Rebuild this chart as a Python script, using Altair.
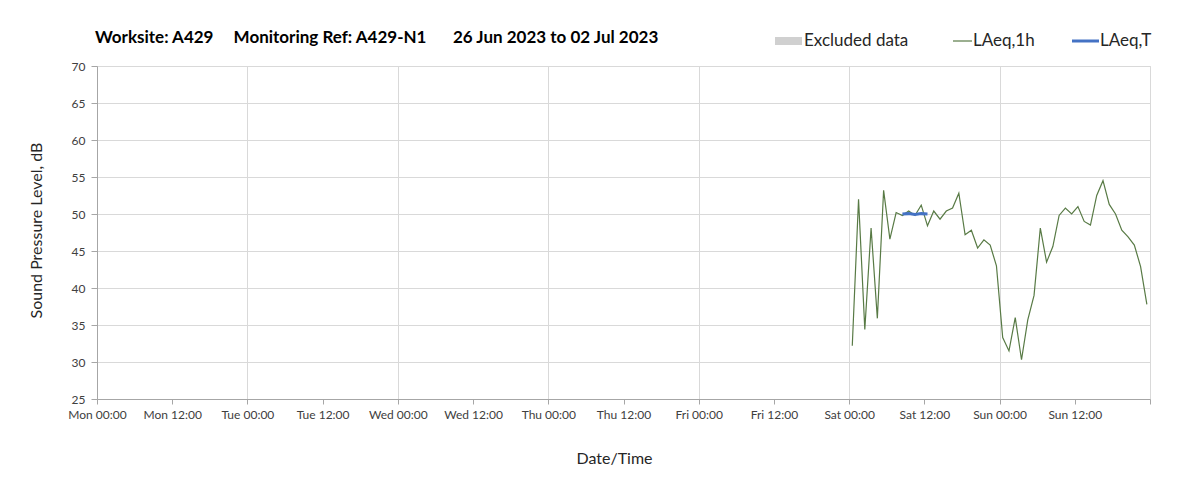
import altair as alt
import pandas as pd

# ---------------- data ----------------
# LAeq,1h values, hourly (plotted at half past each hour), Sat 01 Jul and Sun 02 Jul 2023
sat_times = [f"2023-07-01T{h:02d}:30:00" for h in range(24)]
sat_vals = [32.2, 52.0, 34.4, 48.1, 35.9, 53.2, 46.6, 50.2, 49.8, 50.4, 49.8, 51.2,
            48.4, 50.4, 49.3, 50.4, 50.8, 52.8, 47.2, 47.8, 45.4, 46.5, 45.8, 43.0]
sun_times = [f"2023-07-02T{h:02d}:30:00" for h in range(24)]
sun_vals = [33.3, 31.5, 36.0, 30.3, 35.7, 39.0, 48.1, 43.5, 45.6, 49.8, 50.8, 50.0,
            51.0, 49.0, 48.5, 52.5, 54.5, 51.3, 50.0, 47.8, 46.9, 45.8, 42.9, 37.8]

# LAeq,T values
t_times = ["2023-07-01T08:30:00", "2023-07-01T09:30:00", "2023-07-01T10:30:00",
           "2023-07-01T11:30:00", "2023-07-01T12:30:00"]
t_vals = [50.0, 50.05, 49.95, 50.05, 50.0]

title_parts = ["Worksite: A429", "Monitoring Ref: A429-N1", "26 Jun 2023 to 02 Jul 2023"]
legend_labels = ["Excluded data", "LAeq,1h", "LAeq,T"]
y_ticks = [25, 30, 35, 40, 45, 50, 55, 60, 65, 70]
# tick days (month, day) from Mon 26 Jun to Mon 03 Jul, every 12 h
tick_days = [(6, 26), (6, 27), (6, 28), (6, 29), (6, 30), (7, 1), (7, 2)]

GREEN = "#587a45"
BLUE = "#4472c4"
FONT = "Lato"

df_1h = pd.DataFrame({"time": sat_times + sun_times, "level": sat_vals + sun_vals})
df_t = pd.DataFrame({"time": t_times, "level": t_vals})

tick_values = []
for m, d in tick_days:
    tick_values.append(alt.DateTime(year=2023, month=m, date=d, hours=0))
    tick_values.append(alt.DateTime(year=2023, month=m, date=d, hours=12))
tick_values.append(alt.DateTime(year=2023, month=7, date=3, hours=0))

x_scale = alt.Scale(domain=[alt.DateTime(year=2023, month=6, date=26, hours=0),
                            alt.DateTime(year=2023, month=7, date=3, hours=0)])
y_scale = alt.Scale(domain=[25, 70], nice=False, zero=False)

x_axis = alt.Axis(
    values=tick_values, format="%a %H:%M",
    labelExpr="date(datum.value) == 3 ? '' : datum.label",
    labelFont=FONT, labelFontSize=12, labelColor="#404040", labelPadding=5,
    labelOverlap=False, labelFlush=False,
    tickSize=5, tickColor="#a6a6a6", domainColor="#a6a6a6",
    gridColor="#d9d9d9",
    gridOpacity={"condition": {"test": "hours(datum.value) == 12", "value": 0}, "value": 1},
    title="Date/Time", titleFont=FONT, titleFontSize=16, titleFontWeight="normal",
    titleColor="#262626", titleX=517, titleY=59, titleBaseline="middle", titleAlign="center",
)
y_axis = alt.Axis(
    values=y_ticks, tickCount=10, labelFont=FONT, labelFontSize=12, labelColor="#404040",
    labelPadding=6, labelOverlap=False, labelFlush=False,
    tickSize=6, tickColor="#a6a6a6", domainColor="#a6a6a6", gridColor="#d9d9d9",
    title="Sound Pressure Level, dB", titleFont=FONT, titleFontSize=16, titleFontWeight="normal",
    titleColor="#262626", titleAngle=-90, titleX=-61, titleY=164,
    titleAlign="center", titleBaseline="middle",
)

line_1h = alt.Chart(df_1h).mark_line(color=GREEN, strokeWidth=1.2).encode(
    x=alt.X("time:T", scale=x_scale, axis=x_axis),
    y=alt.Y("level:Q", scale=y_scale, axis=y_axis),
)
line_t = alt.Chart(df_t).mark_line(color=BLUE, strokeWidth=3).encode(
    x=alt.X("time:T", scale=x_scale),
    y=alt.Y("level:Q", scale=y_scale),
)

def text_layer(txt, x, y, size, weight="normal", color="#262626"):
    return alt.Chart(pd.DataFrame({"t": [txt]})).mark_text(
        align="left", baseline="middle", font=FONT, fontSize=size,
        fontWeight=weight, color=color,
    ).encode(x=alt.value(x), y=alt.value(y), text="t:N")

title_y = -28
titles = [
    text_layer(title_parts[0], -2, title_y, 17, "bold", "#000000"),
    text_layer(title_parts[1], 136.6, title_y, 17, "bold", "#000000"),
    text_layer(title_parts[2], 356, title_y, 17, "bold", "#000000"),
]

leg_y = -25
dummy = pd.DataFrame({"d": [0]})
leg_rect = alt.Chart(dummy).mark_rect(color="#d0d0d0").encode(
    x=alt.value(678), x2=alt.value(705), y=alt.value(leg_y - 4), y2=alt.value(leg_y + 4))
leg_green = alt.Chart(dummy).mark_rule(color=GREEN, strokeWidth=1.2).encode(
    x=alt.value(856), x2=alt.value(875), y=alt.value(leg_y))
leg_blue = alt.Chart(dummy).mark_rule(color=BLUE, strokeWidth=3).encode(
    x=alt.value(975), x2=alt.value(1002), y=alt.value(leg_y))
legend_texts = [
    text_layer(legend_labels[0], 707, leg_y, 17),
    text_layer(legend_labels[1], 876, leg_y, 17),
    text_layer(legend_labels[2], 1003, leg_y, 17),
]

chart = alt.layer(
    line_1h, line_t, *titles, leg_rect, leg_green, leg_blue, *legend_texts
).properties(
    width=1053, height=333,
    autosize=alt.AutoSizeParams(type="none"),
    padding={"left": 89, "top": 58, "right": 40, "bottom": 75},
).configure_view(stroke="#d9d9d9")

chart.save("out.html", embed_options={"renderer": "svg", "actions": False})
